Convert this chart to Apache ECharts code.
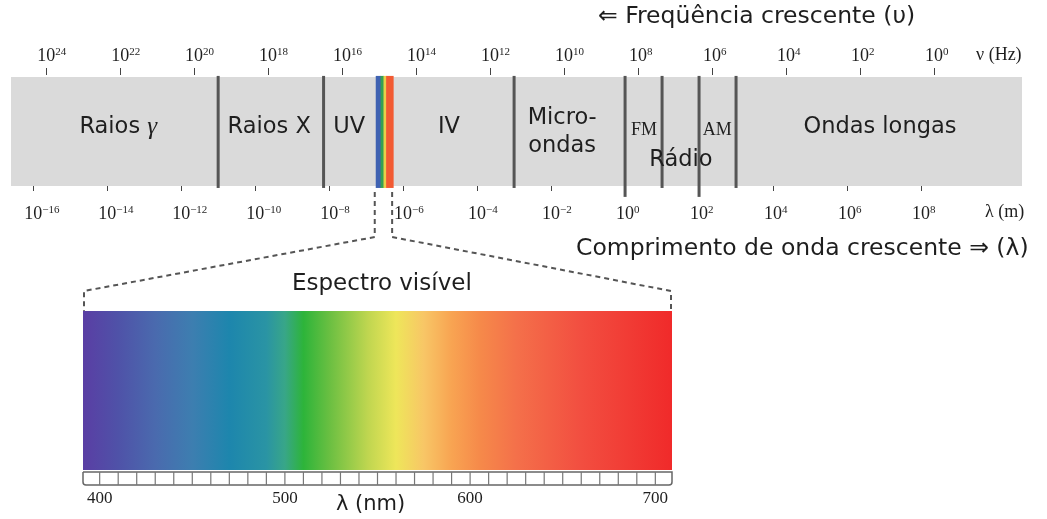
<!DOCTYPE html>
<html>
<head>
<meta charset="utf-8">
<title>Espectro eletromagnético</title>
<script src="https://cdn.jsdelivr.net/npm/echarts@6/dist/echarts.min.js"></script>
<style>
  html, body { margin: 0; padding: 0; background: #fff; }
  #chart { width: 1047px; height: 519px; }
</style>
</head>
<body>
<div id="chart"></div>
<script>
// ---- data ---------------------------------------------------------------
// tick exponents of the two logarithmic scales
const freqExponents = [24, 22, 20, 18, 16, 14, 12, 10, 8, 6, 4, 2, 0];
const waveExponents = [-16, -14, -12, -10, -8, -6, -4, -2, 0, 2, 4, 6, 8];
// extent of the grey band, as log10 of wavelength (m) and of frequency (Hz)
const waveExtent = [-16.6, 10.73];
const freqExtent = [-2.38, 24.95];
// borders between regions (log10 λ); "long" ones reach the lower tick row
const borderExponents = [-11, -8.15, -3, 0, 1, 2, 3];
const borderLong = [false, false, false, true, false, true, false];
// region names and where they sit (log10 λ, height inside the band 0..1)
const regionNames = ['Raios γ', 'Raios X', 'UV', 'IV', 'Micro-\nondas', 'FM', 'AM', 'Rádio', 'Ondas longas'];
const regionPos = [-13.70, -9.62, -7.46, -4.76, -1.70, 0.51, 2.49, 1.51, 6.89];
const regionHeight = [0.54, 0.54, 0.54, 0.54, 0.495, 0.51, 0.51, 0.24, 0.54];
// narrow visible strip inside the band (log10 λ edges) and its colours
const stripEdges = [-6.74, -6.61, -6.53, -6.46, -6.27];
const stripColors = ['#3f62b2', '#35a052', '#e8cf48', '#f25a32'];
// visible spectrum (nm) and colour stops
const visibleExtent = [391, 709];
const spectrumNm = [391, 410, 430, 450, 470, 490, 500, 510, 525, 545, 560, 575, 590, 605, 625, 660, 709];
const spectrumColors = ['#5a3ea4', '#4f52a8', '#4a6aae', '#3d7eb0', '#1d86ad', '#2a94a4', '#38a688', '#2db43a',
  '#6ec042', '#c0d650', '#eee65a', '#f8c666', '#f8a452', '#f68a4a', '#f4704a', '#f24e40', '#f02a2a'];
const nmLabels = [400, 500, 600, 700];
const rulerTicks = [400, 410, 420, 430, 440, 450, 460, 470, 480, 490, 500, 510, 520, 530, 540, 550, 560, 570,
  580, 590, 600, 610, 620, 630, 640, 650, 660, 670, 680, 690, 700];

// ---- layout -------------------------------------------------------------
const band = { left: 11, right: 1022, top: 77, bottom: 186 };
const vis = { left: 83, right: 672, top: 311, bottom: 470 };
const ruler = { top: 472, bottom: 485 };

const SERIF = "'Liberation Serif', 'DejaVu Serif', serif";
const SANS = "'DejaVu Sans', Verdana, sans-serif";
const INK = '#1e1e1e';

function powLabel(v) {
  const e = String(v).replace('-', '\u2212');
  // an invisible copy of the exponent on the left keeps "10" centred on its tick
  return '{h|' + e + '}10{s|' + e + '}';
}
const powRich = {
  h: { fontSize: 11, fontFamily: SERIF, color: 'rgba(0,0,0,0)' },
  s: { fontSize: 11, fontFamily: SERIF, color: INK, verticalAlign: 'top' }
};

const chart = echarts.init(document.getElementById('chart'), null, { renderer: 'canvas' });

const option = {
  backgroundColor: '#ffffff',
  animation: false,
  grid: [
    { left: band.left, width: band.right - band.left, top: band.top, height: band.bottom - band.top,
      show: true, backgroundColor: '#dadada', borderWidth: 0 },
    { left: vis.left, width: vis.right - vis.left, top: vis.top, height: vis.bottom - vis.top },
    { left: vis.left, width: vis.right - vis.left, top: ruler.top, height: ruler.bottom - ruler.top }
  ],
  xAxis: [
    { // wavelength, log10 metres
      gridIndex: 0, type: 'value', position: 'bottom', min: waveExtent[0], max: waveExtent[1], offset: 6,
      axisLine: { show: false }, splitLine: { show: false },
      axisTick: { show: true, customValues: waveExponents, length: 5, lineStyle: { color: '#444', width: 1 } },
      axisLabel: { customValues: waveExponents, formatter: powLabel, margin: 13, fontSize: 18,
        fontFamily: SERIF, color: INK, rich: powRich }
    },
    { // frequency, log10 hertz (grows to the left)
      gridIndex: 0, type: 'value', position: 'top', inverse: true, min: freqExtent[0], max: freqExtent[1], offset: 2,
      axisLine: { show: false }, splitLine: { show: false },
      axisTick: { show: true, customValues: freqExponents, length: 7, lineStyle: { color: '#444', width: 1 } },
      axisLabel: { customValues: freqExponents, formatter: powLabel, margin: 10, fontSize: 18,
        fontFamily: SERIF, color: INK, rich: powRich }
    },
    { gridIndex: 1, type: 'value', min: visibleExtent[0], max: visibleExtent[1], show: false },
    { // nanometre scale below the ruler
      gridIndex: 2, type: 'value', position: 'bottom', min: visibleExtent[0], max: visibleExtent[1],
      axisLine: { show: false }, splitLine: { show: false }, axisTick: { show: false },
      axisLabel: { customValues: nmLabels, margin: 5, fontSize: 17, fontFamily: SERIF, color: INK }
    }
  ],
  yAxis: [
    { gridIndex: 0, type: 'value', min: 0, max: 1, show: false },
    { gridIndex: 1, type: 'value', min: 0, max: 1, show: false },
    { gridIndex: 2, type: 'value', min: 0, max: 1, show: false }
  ],
  graphic: [
    { type: 'text', left: 598, top: 5, style: { text: '⇐ Freqüência crescente (υ)', font: '23.5px ' + SANS, fill: INK } },
    { type: 'text', left: 576, top: 237, style: { text: 'Comprimento de onda crescente ⇒ (λ)', font: '23.5px ' + SANS, fill: INK } },
    { type: 'text', left: 292, top: 273, style: { text: 'Espectro visível', font: '23px ' + SANS, fill: INK } },
    { type: 'text', left: 976, top: 46, style: { text: 'ν (Hz)', font: '18px ' + SERIF, fill: INK } },
    { type: 'text', left: 985, top: 203, style: { text: 'λ (m)', font: '18px ' + SERIF, fill: INK } },
    { type: 'text', left: 336, top: 494, style: { text: 'λ (nm)', font: '21px ' + SANS, fill: INK } }
  ],
  series: [
    { // region borders
      type: 'custom', xAxisIndex: 0, yAxisIndex: 0, clip: false, silent: true,
      data: borderExponents.map((v, i) => [v, borderLong[i] ? 1 : 0]),
      renderItem: function (params, api) {
        const x = api.value(0);
        const p1 = api.coord([x, 1.01]);
        const p2 = api.coord([x, api.value(1) ? -0.1 : -0.018]);
        return { type: 'line', shape: { x1: p1[0], y1: p1[1], x2: p2[0], y2: p2[1] },
          style: { stroke: '#555', lineWidth: 3 } };
      }
    },
    { // visible strip inside the band
      type: 'custom', xAxisIndex: 0, yAxisIndex: 0, clip: false, silent: true,
      data: stripColors.map((c, i) => [stripEdges[i], stripEdges[i + 1]]),
      renderItem: function (params, api) {
        const a = api.coord([api.value(0), 1.01]);
        const b = api.coord([api.value(1), -0.018]);
        return { type: 'rect', shape: { x: a[0], y: a[1], width: b[0] - a[0] + 0.5, height: b[1] - a[1] },
          style: { fill: stripColors[params.dataIndex] } };
      }
    },
    { // region names
      type: 'scatter', xAxisIndex: 0, yAxisIndex: 0, symbolSize: 0, silent: true,
      itemStyle: { opacity: 1 },
      data: regionNames.map((n, i) => {
        const serif = n === 'FM' || n === 'AM';
        return {
          value: [regionPos[i], regionHeight[i]], name: n,
          label: {
            show: true, position: 'inside', color: INK, opacity: 1,
            fontFamily: serif ? SERIF : SANS, fontSize: serif ? 18 : 22.5, lineHeight: 28,
            formatter: n === 'Raios γ' ? 'Raios {g|γ}' : n,
            rich: { g: { fontFamily: SERIF, fontStyle: 'italic', fontSize: 25, color: INK } }
          }
        };
      })
    },
    { // visible spectrum colour bar
      type: 'custom', xAxisIndex: 2, yAxisIndex: 1, silent: true,
      data: [visibleExtent],
      renderItem: function (params, api) {
        const a = api.coord([api.value(0), 1]);
        const b = api.coord([api.value(1), 0]);
        const span = visibleExtent[1] - visibleExtent[0];
        const stops = spectrumNm.map((nm, i) => ({ offset: (nm - visibleExtent[0]) / span, color: spectrumColors[i] }));
        return { type: 'rect', shape: { x: a[0], y: a[1], width: b[0] - a[0], height: b[1] - a[1] },
          style: { fill: new echarts.graphic.LinearGradient(0, 0, 1, 0, stops) } };
      }
    },
    { // ruler frame
      type: 'custom', xAxisIndex: 3, yAxisIndex: 2, silent: true,
      data: [visibleExtent],
      renderItem: function (params, api) {
        const a = api.coord([api.value(0), 1]);
        const b = api.coord([api.value(1), 0]);
        return { type: 'rect', shape: { x: a[0], y: a[1], width: b[0] - a[0], height: b[1] - a[1], r: [0, 0, 3, 3] },
          style: { fill: '#ffffff', stroke: '#666', lineWidth: 1.5 } };
      }
    },
    { // ruler divisions every 10 nm
      type: 'custom', xAxisIndex: 3, yAxisIndex: 2, silent: true,
      data: rulerTicks,
      renderItem: function (params, api) {
        const a = api.coord([api.value(0), 1]);
        const b = api.coord([api.value(0), 0]);
        return { type: 'line', shape: { x1: a[0], y1: a[1], x2: b[0], y2: b[1] },
          style: { stroke: '#777', lineWidth: 1.2 } };
      }
    }
  ]
};

chart.setOption(option);

// dashed leaders from the narrow strip in the band to the enlarged spectrum
const leftTop = chart.convertToPixel({ xAxisIndex: 0, yAxisIndex: 0 }, [stripEdges[0], 0]);
const rightTop = chart.convertToPixel({ xAxisIndex: 0, yAxisIndex: 0 }, [stripEdges[stripEdges.length - 1], 0]);
const visLeft = chart.convertToPixel({ xAxisIndex: 2, yAxisIndex: 1 }, [visibleExtent[0], 1]);
const visRight = chart.convertToPixel({ xAxisIndex: 2, yAxisIndex: 1 }, [visibleExtent[1], 1]);
const kneeY = band.bottom + 51;
const shoulderY = vis.top - 20;
const dash = { stroke: '#555', lineWidth: 2, lineDash: [5, 4], fill: null };
chart.setOption({
  graphic: option.graphic.concat([
    { type: 'polyline', silent: true, shape: { points: [[leftTop[0] - 1, band.bottom + 6], [leftTop[0] - 1, kneeY],
      [visLeft[0] + 1, shoulderY], [visLeft[0] + 1, visLeft[1]]] }, style: dash },
    { type: 'polyline', silent: true, shape: { points: [[rightTop[0] - 1, band.bottom + 6], [rightTop[0] - 1, kneeY],
      [visRight[0] - 1, shoulderY], [visRight[0] - 1, visRight[1]]] }, style: dash }
  ])
});
</script>
</body>
</html>
